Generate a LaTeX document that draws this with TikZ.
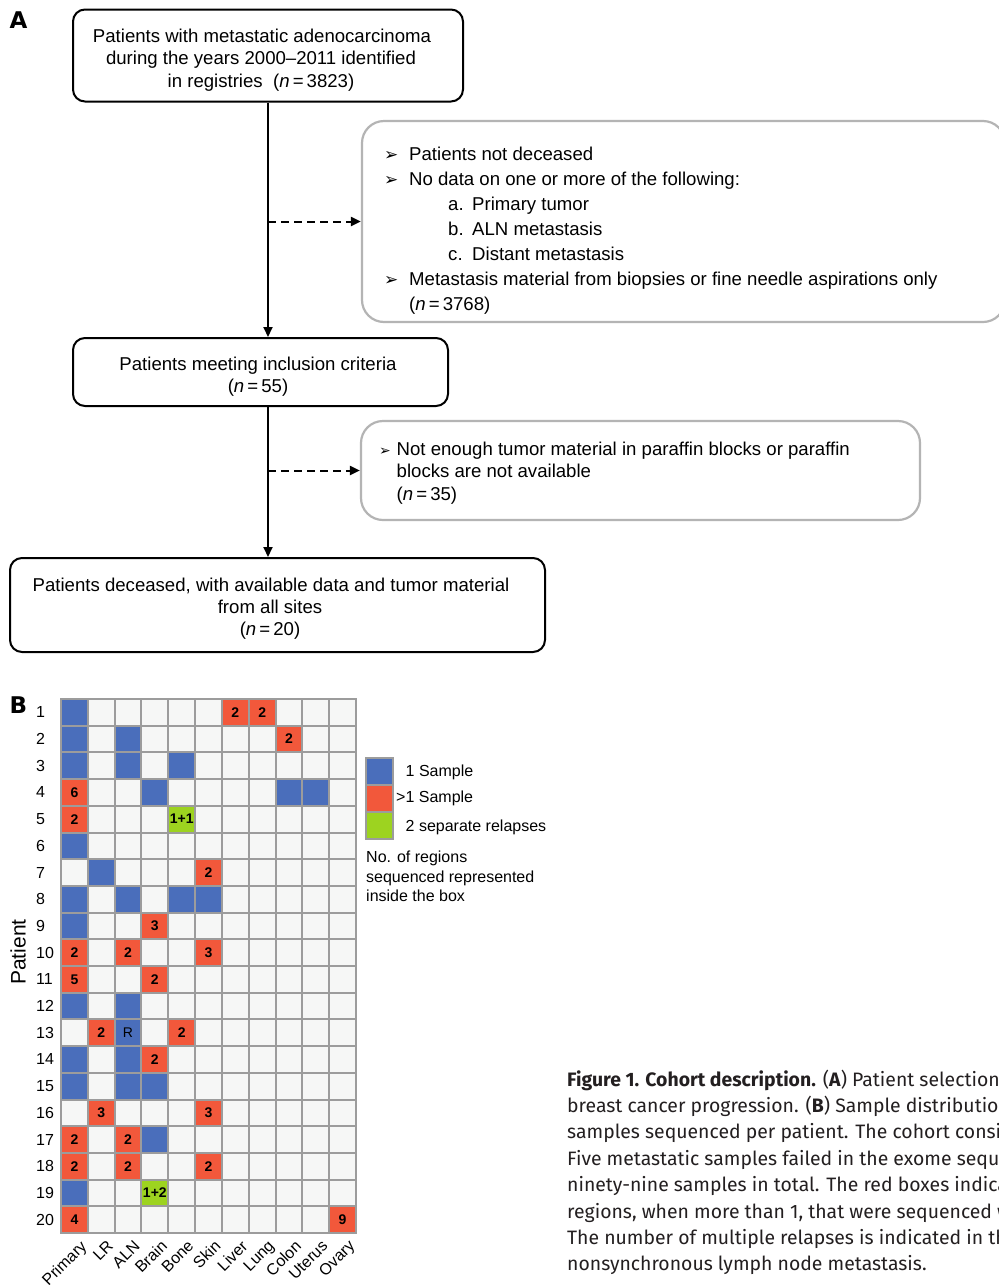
\documentclass[tikz,border=0pt]{standalone}
\usepackage{fontspec}
\setmainfont{Liberation Sans}
\newfontfamily\dejavu{DejaVu Sans}
\newfontfamily\capfont{Fira Sans}
\usetikzlibrary{arrows.meta}
\definecolor{cblue}{HTML}{4A6EBB}
\definecolor{cred}{HTML}{F2583B}
\definecolor{cgreen}{HTML}{9DD320}
\definecolor{cempty}{HTML}{F6F7F6}
\definecolor{cgrid}{HTML}{9C9C9C}
\definecolor{boxgray}{HTML}{B4B4B4}
\definecolor{captext}{HTML}{231F20}
\tikzset{
 blackbox/.style={draw=black, line width=2pt, rounded corners=12pt, inner sep=0pt},
 graybox/.style={draw=boxgray, line width=2.2pt, rounded corners=22pt, inner sep=0pt},
 btxt/.style={anchor=base, font=\fontsize{18.6}{21}\selectfont, inner sep=0pt},
 ltxt/.style={anchor=base west, font=\fontsize{18.6}{21}\selectfont, inner sep=0pt},
 bul/.style={anchor=base west, font=\dejavu\fontsize{17}{17}\selectfont, inner sep=0pt},
 flow/.style={line width=2pt, -{Triangle[length=10pt,width=9pt]}},
 dflow/.style={line width=2pt, dash pattern=on 8pt off 5pt, -{Triangle[length=10pt,width=9pt]}},
 plabel/.style={font=\dejavu\bfseries\fontsize{23}{23}\selectfont, inner sep=0pt},
 gridl/.style={draw=cgrid, line width=2pt, line cap=rect},
 celltxt/.style={font=\bfseries\fontsize{14}{14}\selectfont, inner sep=0pt},
 rowlab/.style={anchor=west, font=\fontsize{16}{16}\selectfont, inner sep=0pt},
 collab/.style={anchor=north east, rotate=45, font=\fontsize{16}{16}\selectfont, inner sep=0pt},
 legbox/.style={draw=cgrid, line width=2pt, minimum size=27pt, inner sep=0pt},
 legtxt/.style={anchor=base west, font=\fontsize{16}{16}\selectfont, inner sep=0pt},
 captxt/.style={anchor=base west, font=\capfont\fontsize{19.4}{20}\selectfont, inner sep=0pt, text=captext},
}
% filled cell with a label
\newcommand{\gcell}[4]{%
 \fill[#3] ({61+(#1-1)*26.82},{699+(#2-1)*26.7}) rectangle ++(26.82,26.7);
 \node[celltxt] (cell-#1-#2) at ({61+(#1-0.5)*26.82},{699+(#2-0.5)*26.7}) {#4};}
% filled cell without a label
\newcommand{\pcell}[3]{%
 \fill[#3] ({61+(#1-1)*26.82},{699+(#2-1)*26.7}) rectangle ++(26.82,26.7);}
\begin{document}
\begin{tikzpicture}[x=1pt,y=-1pt]
\useasboundingbox (0,0) rectangle (999,1286);
\clip (0,0) rectangle (999,1286);
\fill[white] (0,0) rectangle (999,1286);

% ---------- Panel A ----------
\node[plabel] (pA) at (18.5,20) {A};

\node[blackbox, minimum width=390pt, minimum height=92pt] (b1) at (268,55.5) {};
\node[btxt] (b1t1) at (262,42) {Patients with metastatic adenocarcinoma};
\node[btxt] (b1t2) at (261,64.5) {during the years 2000--2011 identified};
\node[btxt] (b1t3) at (261,87) {in registries\ \ (\textit{n}\,=\,3823)};

\node[graybox, minimum width=643pt, minimum height=201pt] (b2) at (683.5,221.5) {};
\node[bul] (b2u1) at (384,160) {➢};
\node[ltxt] (b2t1) at (409,160) {Patients not deceased};
\node[bul] (b2u2) at (384,185) {➢};
\node[ltxt] (b2t2) at (409,185) {No data on one or more of the following:};
\node[ltxt] (b2a) at (448,210) {a.};
\node[ltxt] (b2ta) at (472,210) {Primary tumor};
\node[ltxt] (b2b) at (448,235) {b.};
\node[ltxt] (b2tb) at (472,235) {ALN metastasis};
\node[ltxt] (b2c) at (448,260) {c.};
\node[ltxt] (b2tc) at (472,260) {Distant metastasis};
\node[bul] (b2u3) at (384,285) {➢};
\node[ltxt] (b2t3) at (409,285) {Metastasis material from biopsies or fine needle aspirations only};
\node[ltxt] (b2t4) at (409,310) {(\textit{n}\,=\,3768)};

\node[blackbox, minimum width=375pt, minimum height=68pt] (b3) at (260.5,372) {};
\node[btxt] (b3t1) at (258,370) {Patients meeting inclusion criteria};
\node[btxt] (b3t2) at (258,392.5) {(\textit{n}\,=\,55)};

\node[graybox, minimum width=559pt, minimum height=99pt] (b4) at (640.5,470.5) {};
\node[bul, font=\dejavu\fontsize{14}{14}\selectfont] (b4u1) at (379,455) {➢};
\node[ltxt] (b4t1) at (396.5,455) {Not enough tumor material in paraffin blocks or paraffin};
\node[ltxt] (b4t2) at (396.5,477) {blocks are not available};
\node[ltxt] (b4t3) at (396.5,500) {(\textit{n}\,=\,35)};

\node[blackbox, minimum width=535pt, minimum height=94pt] (b5) at (277.5,605) {};
\node[btxt] (b5t1) at (271,591.5) {Patients deceased, with available data and tumor material};
\node[btxt] (b5t2) at (270,613.5) {from all sites};
\node[btxt] (b5t3) at (270,635.5) {(\textit{n}\,=\,20)};

\draw[flow] (b1.south) -- (b1.south |- b3.north);
\draw[flow] (b1.south |- b3.south) -- (b1.south |- b5.north);
\draw[dflow] (b1.south |- b2.west) -- (b2.west);
\draw[dflow] (b1.south |- b4.west) -- (b4.west);

% ---------- Panel B ----------
\node[plabel] (pB) at (18.5,705.5) {B};
\fill[cempty] (61,699) rectangle (356,1233);

\pcell{1}{1}{cblue}\gcell{7}{1}{cred}{2}\gcell{8}{1}{cred}{2}
\pcell{1}{2}{cblue}\pcell{3}{2}{cblue}\gcell{9}{2}{cred}{2}
\pcell{1}{3}{cblue}\pcell{3}{3}{cblue}\pcell{5}{3}{cblue}
\gcell{1}{4}{cred}{6}\pcell{4}{4}{cblue}\pcell{9}{4}{cblue}\pcell{10}{4}{cblue}
\gcell{1}{5}{cred}{2}\gcell{5}{5}{cgreen}{1+1}
\pcell{1}{6}{cblue}
\pcell{2}{7}{cblue}\gcell{6}{7}{cred}{2}
\pcell{1}{8}{cblue}\pcell{3}{8}{cblue}\pcell{5}{8}{cblue}\pcell{6}{8}{cblue}
\pcell{1}{9}{cblue}\gcell{4}{9}{cred}{3}
\gcell{1}{10}{cred}{2}\gcell{3}{10}{cred}{2}\gcell{6}{10}{cred}{3}
\gcell{1}{11}{cred}{5}\gcell{4}{11}{cred}{2}
\pcell{1}{12}{cblue}\pcell{3}{12}{cblue}
\gcell{2}{13}{cred}{2}\gcell{3}{13}{cblue}{\mdseries R}\gcell{5}{13}{cred}{2}
\pcell{1}{14}{cblue}\pcell{3}{14}{cblue}\gcell{4}{14}{cred}{2}
\pcell{1}{15}{cblue}\pcell{3}{15}{cblue}\pcell{4}{15}{cblue}
\gcell{2}{16}{cred}{3}\gcell{6}{16}{cred}{3}
\gcell{1}{17}{cred}{2}\gcell{3}{17}{cred}{2}\pcell{4}{17}{cblue}
\gcell{1}{18}{cred}{2}\gcell{3}{18}{cred}{2}\gcell{6}{18}{cred}{2}
\pcell{1}{19}{cblue}\gcell{4}{19}{cgreen}{1+2}
\gcell{1}{20}{cred}{4}\gcell{11}{20}{cred}{9}

\foreach \i in {0,...,11} \draw[gridl] ({61+\i*26.82},699) -- ({61+\i*26.82},1233);
\foreach \j in {0,...,20} \draw[gridl] (61,{699+\j*26.7}) -- (356,{699+\j*26.7});

\foreach \j in {1,...,20} \node[rowlab] (row\j) at (36,{699+(\j-0.5)*26.7}) {\j};
\foreach \nm [count=\i] in {Primary,LR,ALN,Brain,Bone,Skin,Liver,Lung,Colon,Uterus,Ovary}
  \node[collab] (col\i) at ({61+(\i-0.5)*26.82+5},1239) {\nm};
\node[rotate=90, font=\fontsize{21}{21}\selectfont, inner sep=0pt] (patlab) at (18,952) {Patient};

% legend
\node[legbox, fill=cblue] (lg1) at (379.5,771.5) {};
\node[legbox, fill=cred] (lg2) at (379.5,798.5) {};
\node[legbox, fill=cgreen] (lg3) at (379.5,825.5) {};
\node[legtxt] (lt1) at (405.5,776) {1 Sample};
\node[legtxt] (lt2) at (396,802) {>1 Sample};
\node[legtxt] (lt3) at (405.5,831) {2 separate relapses};
\node[legtxt] (lt4) at (366,862) {No. of regions};
\node[legtxt] (lt5) at (366,882) {sequenced represented};
\node[legtxt] (lt6) at (366,901.5) {inside the box};

% caption
\node[captxt] (c1) at (567,1086) {\textbf{Figure 1. Cohort description.} (\textbf{A}) Patient selection criteria};
\node[captxt] (c2) at (567,1112.4) {breast cancer progression. (\textbf{B}) Sample distribution across};
\node[captxt] (c3) at (567,1138.8) {samples sequenced per patient. The cohort consists of};
\node[captxt] (c4) at (567,1165.2) {Five metastatic samples failed in the exome sequencing};
\node[captxt] (c5) at (567,1191.6) {ninety-nine samples in total. The red boxes indicate the};
\node[captxt] (c6) at (567,1218) {regions, when more than 1, that were sequenced within};
\node[captxt] (c7) at (567,1244.4) {The number of multiple relapses is indicated in the};
\node[captxt] (c8) at (567,1270.8) {nonsynchronous lymph node metastasis.};
\end{tikzpicture}
\end{document}
